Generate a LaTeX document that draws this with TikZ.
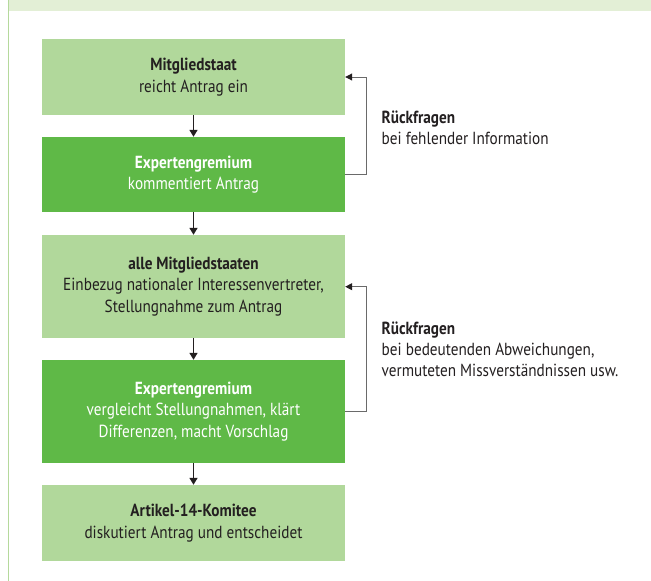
\documentclass[tikz,border=0pt]{standalone}
\usepackage{fontspec}
\setmainfont{PT Sans}[FakeStretch=0.87]
\usetikzlibrary{arrows.meta}
\definecolor{lightg}{HTML}{B1D89B}
\definecolor{darkg}{HTML}{5FB947}
\definecolor{band}{HTML}{E3EFD6}
\definecolor{edgeg}{HTML}{B5D99C}
\definecolor{txt}{HTML}{231F20}
\definecolor{fb}{HTML}{6A6A6A}
\begin{document}
\begin{tikzpicture}[x=1pt,y=-1pt,
  box/.style={inner sep=0pt,minimum width=303pt,align=center,font=\fontsize{17.5}{21.5}\selectfont},
  lightbox/.style={box,fill=lightg,text=txt},
  darkbox/.style={box,fill=darkg,text=white},
  flow/.style={draw=txt,line width=1.6pt,-{Triangle[length=7pt,width=8pt]}},
  back/.style={draw=fb,line width=1pt,-{Triangle[length=7pt,width=7pt,fill=txt,color=txt]}},
  note/.style={anchor=north west,inner sep=0pt,align=left,text=txt,font=\fontsize{17.5}{21}\selectfont}]
\useasboundingbox (0,0) rectangle (651,581);
\fill[white] (0,0) rectangle (651,581);
\fill[band] (8,0) rectangle (651,11);
\draw[edgeg,line width=1.2pt] (8.5,0) -- (8.5,581);

\node[lightbox,minimum height=76pt] (b1) at (193.5,77) {\textbf{Mitgliedstaat}\\reicht Antrag ein};
\node[darkbox,minimum height=75pt] (b2) at (193.5,174.5) {\textbf{Expertengremium}\\kommentiert Antrag};
\node[lightbox,minimum height=102.7pt] (b3) at (193.5,286.35) {\textbf{alle Mitgliedstaaten}\\Einbezug nationaler Interessenvertreter,\\Stellungnahme zum Antrag};
\node[darkbox,minimum height=102.7pt] (b4) at (193.5,411.35) {\textbf{Expertengremium}\\vergleicht Stellungnahmen, klärt\\Differenzen, macht Vorschlag};
\node[lightbox,minimum height=76pt] (b5) at (193.5,523) {\textbf{Artikel-14-Komitee}\\diskutiert Antrag und entscheidet};

\draw[flow] (b1.south) -- (b2.north);
\draw[flow] (b2.south) -- (b3.north);
\draw[flow] (b3.south) -- (b4.north);
\draw[flow] (b4.south) -- (b5.north);

\coordinate (r1a) at (366.7,174.5);
\coordinate (r1b) at (366.7,77);
\draw[back] (b2.east) -- (r1a) -- (r1b) -- (b1.east);
\coordinate (r2a) at (366.7,411);
\coordinate (r2b) at (366.7,286.7);
\draw[back] (b4.east |- r2a) -- (r2a) -- (r2b) -- (b3.east |- r2b);

\node[note] (n1) at (381.5,110.5) {\textbf{Rückfragen}\\bei fehlender Information};
\node[note] (n2) at (381.5,321.5) {\textbf{Rückfragen}\\bei bedeutenden Abweichungen,\\vermuteten Missverständnissen usw.};
\end{tikzpicture}
\end{document}
